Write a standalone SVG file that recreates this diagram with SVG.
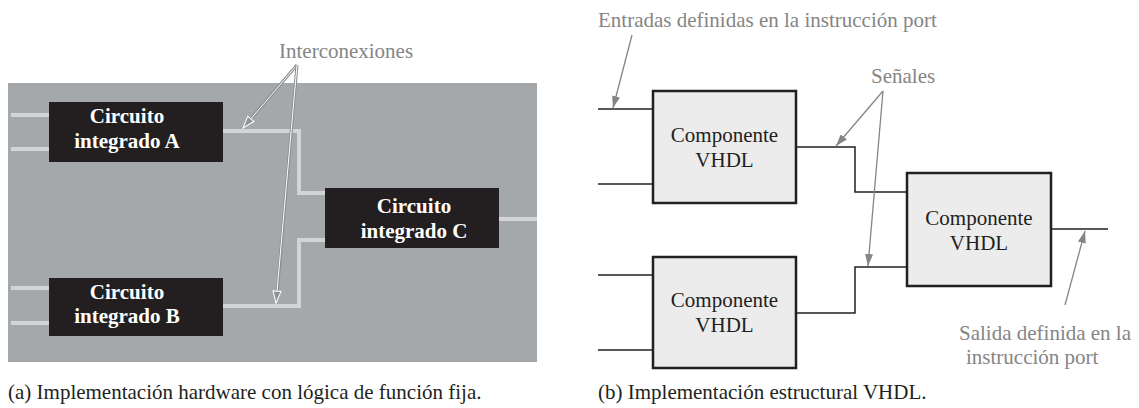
<svg xmlns="http://www.w3.org/2000/svg" width="1139" height="408" viewBox="0 0 1139 408">
<style>
.serif{font-family:"Liberation Serif","Times New Roman",serif;font-size:21px}
.chip{fill:#231f20}
.chiptxt{font-family:"Liberation Serif","Times New Roman",serif;font-size:21px;font-weight:bold;fill:#ffffff;text-anchor:middle}
.wire{fill:none;stroke:#d2d4d5;stroke-width:4}
.comp{fill:#ececed;stroke:#231f20;stroke-width:2.5}
.comptxt{font-family:"Liberation Serif","Times New Roman",serif;font-size:21px;fill:#231f20;text-anchor:middle}
.sig{fill:none;stroke:#231f20;stroke-width:1.5}
.note{font-family:"Liberation Serif","Times New Roman",serif;font-size:21px;fill:#858585}
.ann{fill:none;stroke:#858585;stroke-width:1.3}
.hollowOut{fill:none;stroke:#8a8d90;stroke-width:3}
.hollowIn{fill:none;stroke:#ffffff;stroke-width:1}
.cap{font-family:"Liberation Serif","Times New Roman",serif;font-size:21px;fill:#231f20}
</style>
<defs>
<marker id="arrGray" viewBox="0 0 12 8" refX="12" refY="4" markerWidth="12" markerHeight="8" markerUnits="userSpaceOnUse" orient="auto">
<path d="M0,0 L12,4 L0,8 Z" fill="#858585"/>
</marker>
<marker id="arrHollow" viewBox="-1 -1 14 10" refX="12" refY="4" markerWidth="14" markerHeight="10" markerUnits="userSpaceOnUse" orient="auto">
<path d="M0,0 L12,4 L0,8 Z" fill="#8f9295" stroke="#ffffff" stroke-width="1"/>
</marker>
</defs>

<g id="panel-a">
<rect x="8" y="83" width="529" height="279" fill="#a5a8ab"/>
</g>

<g id="connectors">
<path class="wire" d="M11 115 H49"/>
<path class="wire" d="M11 149 H49"/>
<path class="wire" d="M11 288 H49"/>
<path class="wire" d="M11 323 H49"/>
<path class="wire" d="M223 131 H299 V193 H325"/>
<path class="wire" d="M223 306 H299 V240 H325"/>
<path class="wire" d="M499 219 H537"/>
<path class="sig" d="M598 109 H653"/>
<path class="sig" d="M598 184 H653"/>
<path class="sig" d="M598 275 H653"/>
<path class="sig" d="M598 350 H653"/>
<path class="sig" d="M796 147 H855 V192 H907"/>
<path class="sig" d="M796 313 H855 V267 H907"/>
<path class="sig" d="M1051 229 H1108"/>
</g>

<g id="chip-a">
<rect class="chip" x="49" y="102" width="174" height="60"/>
<text class="chiptxt" x="127" y="123">Circuito</text>
<text class="chiptxt" x="127" y="148">integrado A</text>
</g>
<g id="chip-b">
<rect class="chip" x="49" y="278" width="174" height="58"/>
<text class="chiptxt" x="127" y="299">Circuito</text>
<text class="chiptxt" x="127" y="323">integrado B</text>
</g>
<g id="chip-c">
<rect class="chip" x="325" y="188" width="174" height="60"/>
<text class="chiptxt" x="414" y="213">Circuito</text>
<text class="chiptxt" x="414" y="238">integrado C</text>
</g>

<g id="interconexiones">
<text class="note" x="279" y="58">Interconexiones</text>
<line class="hollowOut" x1="297" y1="65" x2="248" y2="122"/>
<line class="hollowIn" x1="297" y1="65" x2="243" y2="128" marker-end="url(#arrHollow)"/>
<line class="hollowOut" x1="297" y1="65" x2="277" y2="295"/>
<line class="hollowIn" x1="297" y1="65" x2="276" y2="303" marker-end="url(#arrHollow)"/>
</g>

<g id="comp-1">
<rect class="comp" x="653" y="91" width="143" height="112"/>
<text class="comptxt" x="724.5" y="142">Componente</text>
<text class="comptxt" x="724.5" y="167">VHDL</text>
</g>
<g id="comp-2">
<rect class="comp" x="653" y="257" width="143" height="111"/>
<text class="comptxt" x="724.5" y="307">Componente</text>
<text class="comptxt" x="724.5" y="332">VHDL</text>
</g>
<g id="comp-3">
<rect class="comp" x="907" y="173" width="144" height="113"/>
<text class="comptxt" x="979" y="225">Componente</text>
<text class="comptxt" x="979" y="250">VHDL</text>
</g>

<g id="entradas">
<text class="note" x="598" y="27">Entradas definidas en la instrucción port</text>
<line class="ann" x1="632" y1="35" x2="613" y2="108" marker-end="url(#arrGray)"/>
</g>
<g id="senales">
<text class="note" x="871" y="83">Señales</text>
<line class="ann" x1="883" y1="91" x2="836" y2="146" marker-end="url(#arrGray)"/>
<line class="ann" x1="883" y1="91" x2="868" y2="266" marker-end="url(#arrGray)"/>
</g>
<g id="salida">
<text class="note" x="959" y="340">Salida definida en la</text>
<text class="note" x="966" y="364">instrucción port</text>
<line class="ann" x1="1065" y1="305" x2="1085" y2="231" marker-end="url(#arrGray)"/>
</g>

<g id="captions">
<text class="cap" x="8" y="399">(a) Implementación hardware con lógica de función fija.</text>
<text class="cap" x="598" y="399">(b) Implementación estructural VHDL.</text>
</g>
</svg>
